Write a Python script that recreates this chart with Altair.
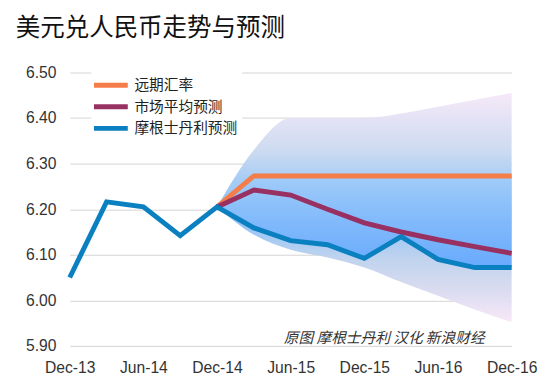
import altair as alt
import pandas as pd

# ---- data ----
months = [0, 3, 6, 9, 12, 15, 18, 21, 24, 27, 30, 33, 36]
tick_months = [0, 6, 12, 18, 24, 30, 36]
tick_labels = ["Dec-13", "Jun-14", "Dec-14", "Jun-15", "Dec-15", "Jun-16", "Dec-16"]

ms_values = [6.05, 6.216, 6.205, 6.142, 6.205, 6.159, 6.131, 6.122, 6.092, 6.14, 6.09, 6.072, 6.072]
fwd_values = [None, None, None, None, 6.205, 6.273, 6.273, 6.273, 6.273, 6.273, 6.273, 6.273, 6.273]
mkt_values = [None, None, None, None, 6.205, 6.242, 6.231, 6.20, 6.17, 6.15, 6.133, 6.118, 6.103]
band_hi = [None, None, None, None, 6.205, 6.33, 6.40, 6.40, 6.40, 6.41, 6.425, 6.44, 6.455]
band_lo = [None, None, None, None, 6.205, 6.144, 6.111, 6.094, 6.072, 6.04, 6.01, 5.98, 5.952]

series_names = ["远期汇率", "市场平均预测", "摩根士丹利预测"]
series_colors = ["#F47D4A", "#983062", "#0A80C0"]

title_text = "美元兑人民币走势与预测"
note_text = "原图 摩根士丹利  汉化 新浪财经"
note_pos = {"m": 33.8, "v": 5.917}

# ---- tables ----
rows = []
for name, vals in zip(series_names, [fwd_values, mkt_values, ms_values]):
    for m, v in zip(months, vals):
        if v is not None:
            rows.append({"m": m, "v": v, "series": name})
lines = pd.DataFrame(rows)

band = pd.DataFrame([
    {"m": m, "lo": lo, "hi": hi, "ms": ms, "fwd": f}
    for m, lo, hi, ms, f in zip(months, band_lo, band_hi, ms_values, fwd_values)
    if lo is not None
])
note = pd.DataFrame([{"m": note_pos["m"], "v": note_pos["v"], "t": note_text}])

x_scale = alt.Scale(domain=[0, 36], nice=False, zero=False)
y_scale = alt.Scale(domain=[5.9, 6.5], nice=False, zero=False)
label_expr = "[" + ",".join("'%s'" % t for t in tick_labels) + "][round(datum.value/6)]"

x_enc = alt.X("m:Q", scale=x_scale, title=None,
              axis=alt.Axis(values=tick_months, labelExpr=label_expr, grid=False,
                            labelPadding=14, labelFlush=False))
y_axis = alt.Axis(values=[5.9, 6.0, 6.1, 6.2, 6.3, 6.4, 6.5], format=".2f",
                  labelPadding=14, grid=True)

outer_grad = alt.LinearGradient(
    gradient="linear", x1=0, x2=0, y1=0, y2=1,
    stops=[
        alt.GradientStop(offset=0.0, color="#f6e9f8"),
        alt.GradientStop(offset=0.25, color="#cddbf1"),
        alt.GradientStop(offset=0.38, color="#a6ccf5"),
        alt.GradientStop(offset=0.55, color="#8fc2f8"),
        alt.GradientStop(offset=0.72, color="#bfd3ee"),
        alt.GradientStop(offset=0.86, color="#dadcf0"),
        alt.GradientStop(offset=1.0, color="#f8e8f8"),
    ])
inner_grad = alt.LinearGradient(
    gradient="linear", x1=0, x2=0, y1=0, y2=1,
    stops=[
        alt.GradientStop(offset=0.0, color="#a0ccf8"),
        alt.GradientStop(offset=1.0, color="#5ea5ff"),
    ])

outer = alt.Chart(band).mark_area(color=outer_grad, interpolate="monotone").encode(
    x=x_enc, y=alt.Y("lo:Q", scale=y_scale, title=None, axis=y_axis), y2="hi:Q")
inner = alt.Chart(band).mark_area(color=inner_grad, opacity=0.9).encode(
    x="m:Q", y="ms:Q", y2="fwd:Q")

color_enc = alt.Color(
    "series:N",
    scale=alt.Scale(domain=series_names, range=series_colors),
    legend=alt.Legend(
        title=None, orient="none", legendX=22, legendY=-1,
        symbolType="M-1.5,0H3.1", symbolSize=225, symbolStrokeWidth=5,
        labelFont="Noto Sans CJK SC", labelFontSize=15, labelColor="#222",
        labelOffset=20, rowPadding=2, fillColor="white", padding=4,
    ),
)

line_layers = []
for name in series_names:
    line_layers.append(
        alt.Chart(lines).transform_filter(alt.datum.series == name)
        .mark_line(strokeWidth=5, strokeJoin="miter")
        .encode(x="m:Q", y="v:Q", color=color_enc)
    )

note_layer = alt.Chart(note).mark_text(
    align="right", baseline="middle", fontStyle="italic",
    font="Noto Sans CJK SC", fontSize=15, color="#333"
).encode(x="m:Q", y="v:Q", text="t:N")

chart = alt.layer(outer, inner, *line_layers, note_layer).properties(
    width=451, height=279,
    title=alt.TitleParams(title_text, anchor="start", frame="bounds",
                          font="Noto Sans CJK SC", fontSize=25, fontWeight="normal",
                          color="#111", offset=24, dx=-10),
    padding={"left": 7, "top": 5, "right": 5, "bottom": 3},
).configure_view(stroke=None).configure_axis(
    labelFont="Liberation Sans", labelFontSize=16, labelColor="#333",
    domain=False, ticks=False, gridColor="#d4d4d4", gridWidth=1,
)

chart.save("out.html", embed_options={"renderer": "svg", "actions": False})
